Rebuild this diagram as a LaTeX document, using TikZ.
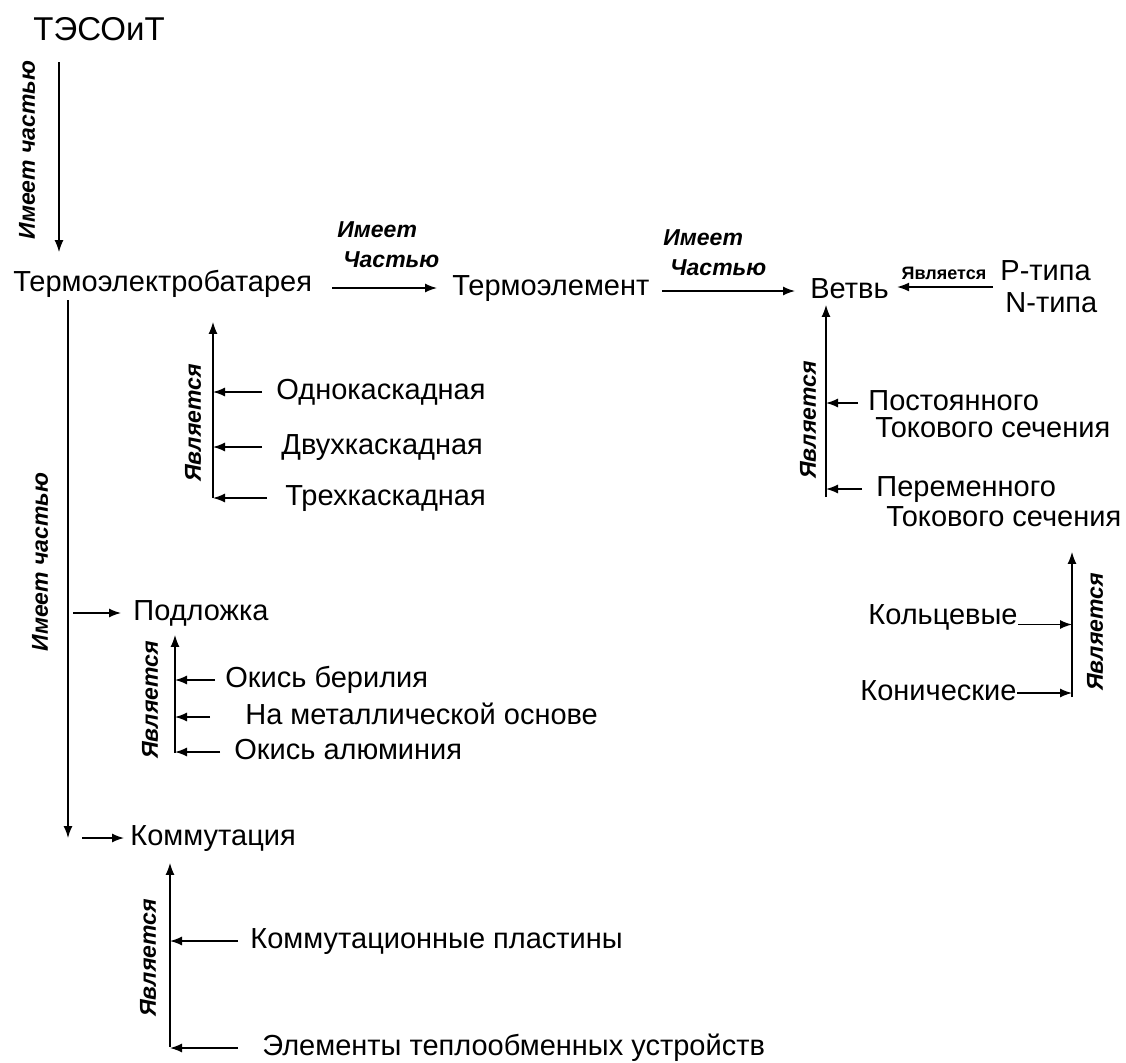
\documentclass[tikz,border=0pt]{standalone}
\usepackage{fontspec}
\setmainfont{Liberation Sans}
\usetikzlibrary{arrows.meta}
\tikzset{
  base/.style={anchor=west,inner sep=0pt,font=\fontsize{14.5}{16}\selectfont},
  item/.style={base,text height=10.5pt,text depth=3pt},
  rel/.style={inner sep=0pt,font=\bfseries\itshape\fontsize{11.5}{15}\selectfont},
  arr/.style={-{Latex[length=6pt,width=4.5pt]},line width=0.7pt}
}
\begin{document}
\begin{tikzpicture}[x=0.5pt,y=-0.5pt]
    \useasboundingbox (0,0) rectangle (1126,1062);
    \node (tesoit) at (33,33) [item,font=\fontsize{16.5}{18}\selectfont] {ТЭСОиТ};
    \node (teb) at (13,284) [item] {Термоэлектробатарея};
    \node (tel) at (452,288) [item] {Термоэлемент};
    \node (vetv) at (810,291) [item] {Ветвь};
    \node (pn) at (1000,287) [base,align=left] {P-типа\\\hspace*{2.5pt}N-типа};
    \node (odno) at (276,392) [item] {Однокаскадная};
    \node (dvuh) at (281,447) [item] {Двухкаскадная};
    \node (treh) at (285,498) [item] {Трехкаскадная};
    \node (post) at (868,403) [item] {Постоянного};
    \node (post2) at (875,430) [item] {Токового сечения};
    \node (perem) at (876,489) [item] {Переменного};
    \node (perem2) at (886,519) [item] {Токового сечения};
    \node (kolc) at (868,617) [item] {Кольцевые};
    \node (konich) at (860,693) [item] {Конические};
    \node (podl) at (133,613) [item] {Подложка};
    \node (okber) at (225,680) [item] {Окись берилия};
    \node (nameta) at (245,717) [item] {На металлической основе};
    \node (okal) at (234,752) [item] {Окись алюминия};
    \node (komm) at (130,838) [item] {Коммутация};
    \node (kplast) at (250,941) [item] {Коммутационные пластины};
    \node (elem) at (262,1048) [item] {Элементы теплообменных устройств};

    \node (r1) at (27,150) [rel,rotate=90] {Имеет частью};
    \node (r2) at (337,245) [rel,anchor=west,align=left] {Имеет\\\hspace*{3pt}Частью};
    \node (r3) at (663,253) [rel,anchor=west,align=left] {Имеет\\\hspace*{3.5pt}Частью};
    \node (r4) at (944,273) [inner sep=0pt,font=\bfseries\fontsize{9}{10}\selectfont] {Является};
    \node (r5) at (40,562) [rel,rotate=90] {Имеет частью};
    \node (r6) at (193,423) [rel,rotate=90] {Является};
    \node (r7) at (150,700) [rel,rotate=90] {Является};
    \node (r8) at (148,958) [rel,rotate=90] {Является};
    \node (r9) at (808,420) [rel,rotate=90] {Является};
    \node (r10) at (1095,632) [rel,rotate=90] {Является};

    \coordinate (ta) at (59,62);
    \coordinate (ma) at (68,300);
    \coordinate (tb) at (213,498);
    \coordinate (pb) at (175,753);
    \coordinate (kb) at (170,1047);
    \coordinate (vb) at (826,497);
    \coordinate (rb) at (1072,697);

    \draw[arr,shorten >=9pt] (ta) -- (ta |- teb.north);
    \draw[arr] ([xshift=10pt]teb.east |- tel.west) -- ([xshift=-7.5pt]tel.west);
    \draw[arr] ([xshift=6pt]tel.east |- vetv.west) -- ([xshift=-7.5pt]vetv.west);
    \draw[arr] ([xshift=-3.5pt]pn.west) -- ([xshift=4pt]vetv.east |- pn.west);

    \draw[arr] (ma) -- (ma |- komm.west);
    \draw[arr] ([xshift=2.5pt]ma |- podl.west) -- ([xshift=-6pt]podl.west);
    \draw[arr] ([xshift=7pt]ma |- komm.west) -- ([xshift=-3pt]komm.west);

    \draw[arr] (tb) -- ([yshift=-12pt]tb |- teb.south);
    \draw[arr] ([xshift=-7pt]odno.west) -- (odno.west -| tb);
    \draw[arr] ([xshift=-9.5pt]dvuh.west) -- (dvuh.west -| tb);
    \draw[arr] ([xshift=-9pt]treh.west) -- (treh.west -| tb);

    \draw[arr] (pb) -- ([yshift=-4pt]pb |- podl.south);
    \draw[arr] ([xshift=-5pt]okber.west) -- (okber.west -| pb);
    \draw[arr] ([xshift=-17.5pt]nameta.west) -- (nameta.west -| pb);
    \draw[arr] ([xshift=-7pt]okal.west) -- (okal.west -| pb);

    \draw[arr] (kb) -- ([yshift=-5.5pt]kb |- komm.south);
    \draw[arr] ([xshift=-6pt]kplast.west) -- (kplast.west -| kb);
    \draw[arr] ([xshift=-12pt]elem.west) -- (elem.west -| kb);

    \draw[arr] (vb) -- (vb |- vetv.south);
    \draw[arr] ([xshift=-5pt]post.west) -- (post.west -| vb);
    \draw[arr] ([xshift=-7pt]perem.west) -- (perem.west -| vb);

    \draw[arr] (rb) -- ([yshift=-9.5pt]rb |- perem2.south);
    \draw[arr] (kolc.base east) -- (kolc.base east -| rb);
    \draw[arr] (konich.east) -- (konich.east -| rb);
\end{tikzpicture}
\end{document}
